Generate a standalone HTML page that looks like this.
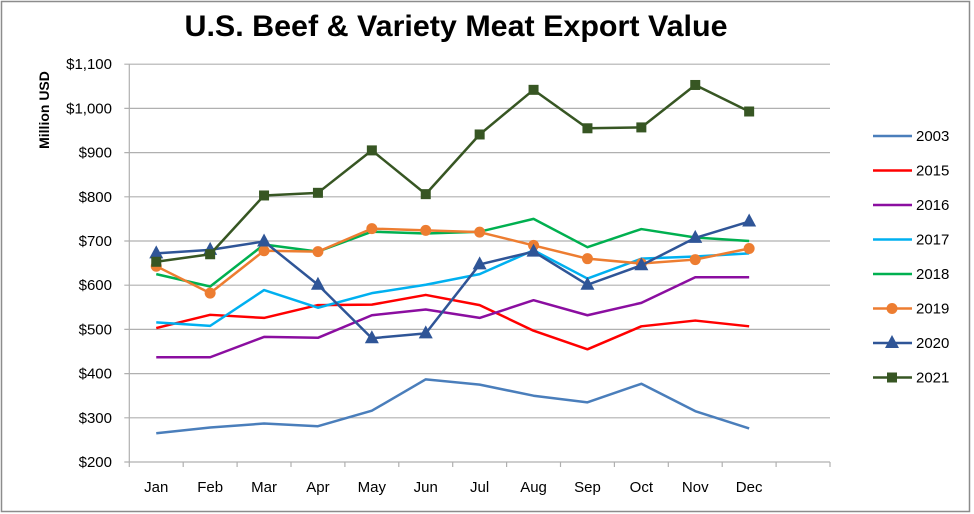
<!DOCTYPE html>
<html><head><meta charset="utf-8"><style>
html,body{margin:0;padding:0;background:#fff;}
svg{display:block;font-family:"Liberation Sans",sans-serif;}
</style></head><body>
<svg width="974" height="514" viewBox="0 0 974 514" xmlns="http://www.w3.org/2000/svg">
<rect x="1.5" y="1.5" width="968" height="510" fill="#fff" stroke="#8c8c8c" stroke-width="1.5"/>
<text x="456" y="36" text-anchor="middle" font-size="30" font-weight="bold" textLength="543" lengthAdjust="spacingAndGlyphs">U.S. Beef &amp; Variety Meat Export Value</text>
<text transform="translate(49,110) rotate(-90)" text-anchor="middle" font-size="14" font-weight="bold">Million USD</text>
<g id="grid" stroke="#b0b0b0" stroke-width="1.2"></g>
<g id="ylab" font-size="15" text-anchor="end" fill="#000"></g>
<g id="xlab" font-size="15" text-anchor="middle" fill="#000"></g>
<g id="series"></g>
<g id="legend" font-size="15"></g>
</svg>
<script>
const ns="http://www.w3.org/2000/svg";
function el(t,a,p){const e=document.createElementNS(ns,t);for(const k in a)e.setAttribute(k,a[k]);p.appendChild(e);return e;}
const L=129.3,R=830,S=53.9,Y0=462,K=0.442;
const yv=v=>Y0-(v-200)*K, xv=i=>L+S*(i+0.5);
const g=document.getElementById('grid'),yl=document.getElementById('ylab'),xl=document.getElementById('xlab');
for(let v=200;v<=1100;v+=100){const y=yv(v);el('line',{x1:L-5,x2:R,y1:y,y2:y},g);
 const t=el('text',{x:112,y:y+5},yl);t.textContent='$'+(v>=1000?'1,'+String(v-1000).padStart(3,'0'):v);}
el('line',{x1:L,x2:L,y1:yv(1100),y2:Y0},g);
for(let i=0;i<=13;i++){el('line',{x1:L+S*i,x2:L+S*i,y1:Y0,y2:Y0+5},g);}
const M=['Jan','Feb','Mar','Apr','May','Jun','Jul','Aug','Sep','Oct','Nov','Dec'];
M.forEach((m,i)=>{const t=el('text',{x:xv(i),y:492},xl);t.textContent=m;});
const D=[
['2003','#4a7ebb',[265,278,287,281,316,387,375,350,335,377,315,276],''],
['2015','#ff0000',[503,533,526,555,556,578,555,497,455,507,520,507],''],
['2016','#8b0ea0',[437,437,483,481,532,545,526,566,532,560,618,618],''],
['2017','#00b0f0',[516,508,589,549,582,601,625,679,615,660,665,672],''],
['2018','#00b050',[625,597,692,676,721,717,721,750,686,727,708,700],''],
['2019','#ed7d31',[643,582,678,676,728,724,720,690,660,649,658,683],'c'],
['2020','#2f5597',[672,680,699,601,480,491,647,676,601,645,707,744],'t'],
['2021','#375623',[653,670,803,809,905,806,941,1042,955,957,1053,993],'s']];
const sg=document.getElementById('series'),lg=document.getElementById('legend');
function mark(type,x,y,c,p){
 if(type==='c')el('circle',{cx:x,cy:y,r:5.5,fill:c},p);
 if(type==='t')el('polygon',{points:`${x},${y-8} ${x+7},${y+5} ${x-7},${y+5}`,fill:c},p);
 if(type==='s')el('rect',{x:x-5,y:y-5,width:10,height:10,fill:c},p);
}
D.forEach(([n,c,v,m],k)=>{
 el('polyline',{points:v.map((d,i)=>xv(i)+','+yv(d)).join(' '),fill:'none',stroke:c,'stroke-width':2.5,'stroke-linejoin':'round'},sg);
 if(m)v.forEach((d,i)=>mark(m,xv(i),yv(d),c,sg));
 const ly=136+k*34.5;
 el('line',{x1:873,x2:912,y1:ly,y2:ly,stroke:c,'stroke-width':2.5},lg);
 if(m)mark(m,892,ly,c,lg);
 const t=el('text',{x:916,y:ly+5},lg);t.textContent=n;
});
</script>
</body></html>
